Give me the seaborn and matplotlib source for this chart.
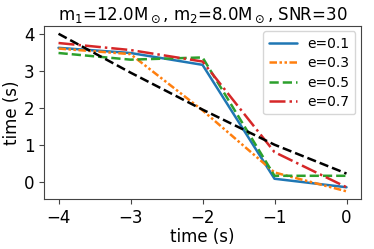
import seaborn as sns
import matplotlib
matplotlib.use("Agg")
import matplotlib.pyplot as plt
import pandas as pd

# значения
t = [-4, -3, -2, -1, 0]
ecc = ["e=0.1", "e=0.3", "e=0.5", "e=0.7"]
y_e01 = [3.62, 3.48, 3.16, 0.08, -0.15]
y_e03 = [3.60, 3.45, 1.93, 0.25, -0.26]
y_e05 = [3.48, 3.30, 3.36, 0.16, 0.16]
y_e07 = [3.75, 3.56, 3.25, 0.80, -0.15]
y_true = [4.00, 2.95, 1.95, 1.00, 0.22]

sns.set_style("ticks")
plt.rcParams["font.family"] = ["DejaVu Sans"]
plt.rcParams["font.size"] = 12
for k in ["text.color", "axes.labelcolor", "xtick.color", "ytick.color"]:
    plt.rcParams[k] = "black"

fig = plt.figure(figsize=(3.74, 2.49), dpi=100)
ax = fig.add_axes([0.118, 0.2, 0.847, 0.696])

colors = ["#1f77b4", "#ff7f0e", "#2ca02c", "#d62728"]
styles = ["-", (0, (3, 1, 1, 1, 1, 1)), "--", "-."]
for name, ys, c, ls in zip(ecc, [y_e01, y_e03, y_e05, y_e07], colors, styles):
    df = pd.DataFrame({"t": t, "y": ys})
    sns.lineplot(data=df, x="t", y="y", ax=ax, color=c, linestyle=ls,
                 linewidth=1.8, label=name)

df = pd.DataFrame({"t": t, "y": y_true})
sns.lineplot(data=df, x="t", y="y", ax=ax, color="black", linestyle="--",
             linewidth=1.8)

for s in ax.spines.values():
    s.set_visible(True)
    s.set_color("#444444")
    s.set_linewidth(0.8)
ax.tick_params(axis="both", which="major", labelsize=12, length=3.5,
               direction="out", colors="black")
ax.tick_params(axis="both", color="#444444")
ax.set_xticks([-4, -3, -2, -1, 0])
ax.set_yticks([0, 1, 2, 3, 4])
ax.set_xlabel("time (s)", fontsize=12, labelpad=1)
ax.set_ylabel("time (s)", fontsize=12, labelpad=2)
ax.set_title(r"m$_1$=12.0M$_\odot$, m$_2$=8.0M$_\odot$, SNR=30", fontsize=12, pad=4)
ax.legend(loc="upper right", fontsize=10, frameon=True, handlelength=2.0,
          borderpad=0.4, labelspacing=0.38, borderaxespad=0.4)

fig.savefig("out.png", dpi=100)
